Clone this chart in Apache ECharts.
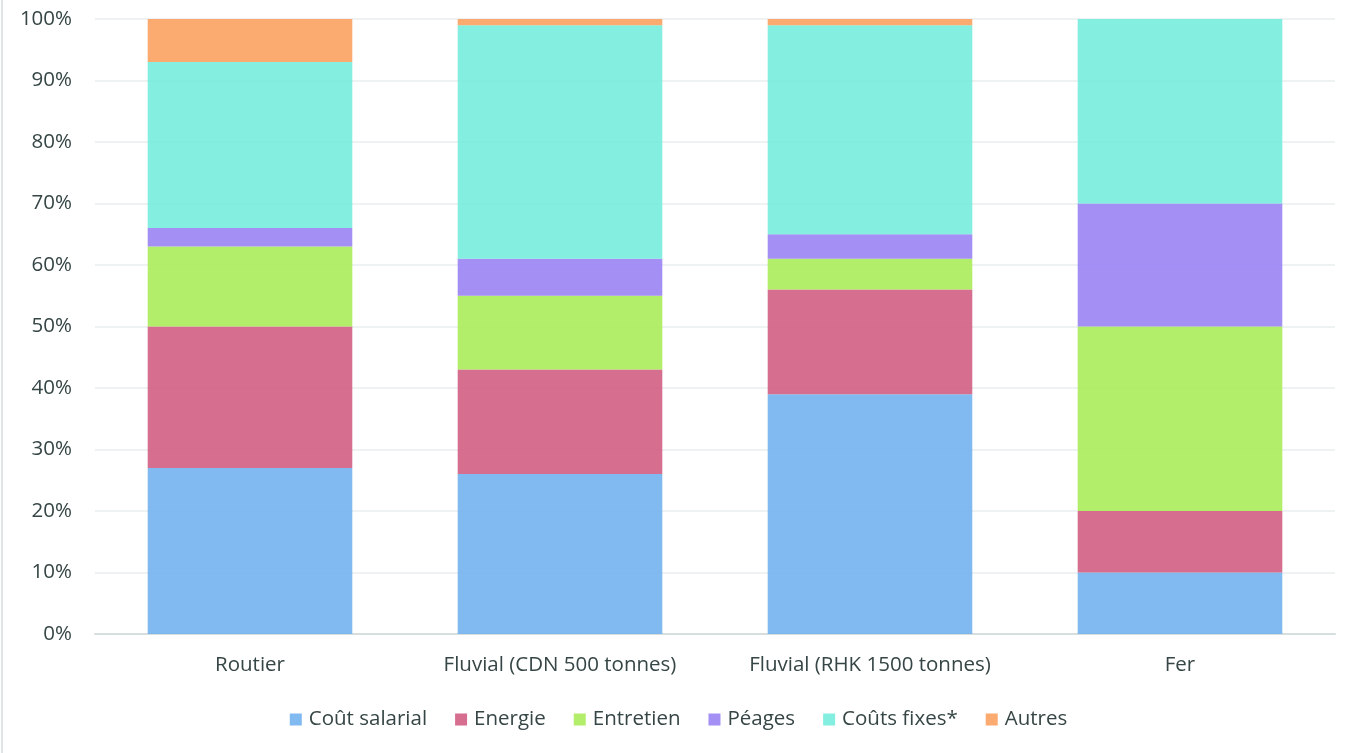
<!DOCTYPE html>
<html>
<head>
<meta charset="utf-8">
<script src="https://cdn.jsdelivr.net/npm/echarts@6/dist/echarts.min.js"></script>
<style>
  html, body { margin: 0; padding: 0; background: #fff; }
  #chart { width: 1357px; height: 753px; }
</style>
</head>
<body>
<div id="chart"></div>
<script>
// Répartition des coûts par mode de transport (en %)
const categories = ['Routier', 'Fluvial (CDN 500 tonnes)', 'Fluvial (RHK 1500 tonnes)', 'Fer'];
const coutSalarial = [27, 26, 39, 10];
const energie      = [23, 17, 17, 10];
const entretien    = [13, 12, 5, 30];
const peages       = [3, 6, 4, 20];
const coutsFixes   = [27, 38, 34, 30];
const autres       = [7, 1, 1, 0];

const seriesDefs = [
  { name: 'Coût salarial', data: coutSalarial, color: '#6fb1ef' },
  { name: 'Energie',       data: energie,      color: '#d05a80' },
  { name: 'Entretien',     data: entretien,    color: '#a8ec55' },
  { name: 'Péages',        data: peages,       color: '#977ff4' },
  { name: 'Coûts fixes*',  data: coutsFixes,   color: '#73ecdc' },
  { name: 'Autres',        data: autres,       color: '#fb9e5c' }
];

const textColor = '#364545';
const font = '"Open Sans", "Noto Sans", sans-serif';

const chart = echarts.init(document.getElementById('chart'), null, { renderer: 'canvas' });
chart.setOption({
  animation: false,
  backgroundColor: '#ffffff',
  grid: { left: 95, right: 22, top: 19, bottom: 119, containLabel: false },
  legend: {
    bottom: 18,
    left: 'center',
    itemWidth: 12,
    itemHeight: 12,
    itemGap: 28,
    icon: 'rect',
    textStyle: { color: textColor, fontSize: 20.5, fontFamily: font, padding: [0, 0, 0, 2] },
    data: seriesDefs.map(s => s.name)
  },
  xAxis: {
    type: 'category',
    data: categories,
    axisTick: { show: false },
    axisLine: { show: true, lineStyle: { color: '#d6dede', width: 2 } },
    axisLabel: { color: textColor, fontSize: 20.5, fontFamily: font, margin: 21, interval: 0 }
  },
  yAxis: {
    type: 'value',
    min: 0,
    max: 100,
    interval: 10,
    axisLine: { show: false },
    axisTick: { show: false },
    splitLine: { lineStyle: { color: '#eef2f2', width: 2 } },
    axisLabel: { color: textColor, fontSize: 20.5, fontFamily: font, margin: 23, formatter: '{value}%' }
  },
  graphic: [{
    type: 'line',
    shape: { x1: 2, y1: 0, x2: 2, y2: 753 },
    style: { stroke: '#dfe5e5', lineWidth: 2 }
  }],
  series: seriesDefs.map(s => ({
    name: s.name,
    type: 'bar',
    stack: 'total',
    barWidth: '66%',
    data: s.data,
    itemStyle: { color: s.color, opacity: 0.88 }
  }))
});
</script>
</body>
</html>
